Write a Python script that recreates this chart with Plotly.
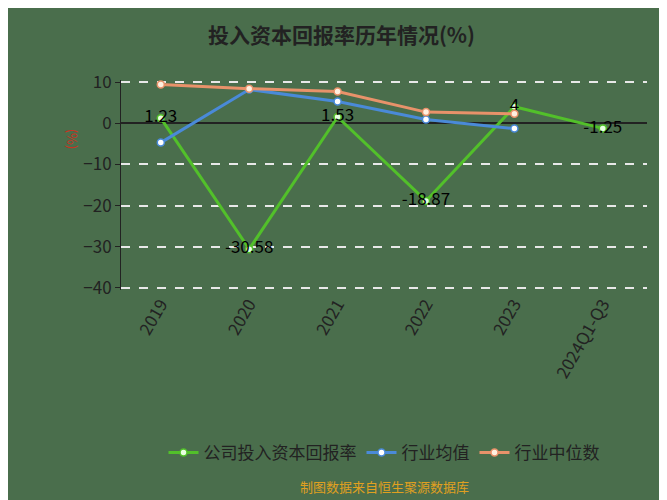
import plotly.graph_objects as go

categories = ["2019", "2020", "2021", "2022", "2023", "2024Q1-Q3"]
company = [1.23, -30.58, 1.53, -18.87, 4, -1.25]
company_labels = ["1.23", "-30.58", "1.53", "-18.87", "4", "-1.25"]
industry_avg = [-4.7, 8.2, 5.3, 0.9, -1.3, None]
industry_median = [9.4, 8.4, 7.7, 2.7, 2.3, None]

bg = "#4a6e4c"
fig = go.Figure()
fig.add_trace(go.Scatter(x=categories, y=company, name="公司投入资本回报率", mode="lines+markers+text",
    text=company_labels, textposition="middle center", textfont=dict(size=17, color="black"),
    line=dict(color="#52c02a", width=3), marker=dict(size=7, color="#e8ffe0", line=dict(color="#52c02a", width=1.5))))
fig.add_trace(go.Scatter(x=categories, y=industry_avg, name="行业均值", mode="lines+markers",
    line=dict(color="#4a8ad8", width=3), marker=dict(size=7, color="white", line=dict(color="#4a8ad8", width=1.5))))
fig.add_trace(go.Scatter(x=categories, y=industry_median, name="行业中位数", mode="lines+markers",
    line=dict(color="#e8926a", width=3), marker=dict(size=7, color="#fff0e0", line=dict(color="#e8926a", width=1.5))))

fig.update_layout(
    width=667, height=500, paper_bgcolor=bg, plot_bgcolor=bg,
    margin=dict(l=113, r=28, t=72, b=218),
    font=dict(family="Noto Sans CJK SC", color="#222"),
    title=dict(text="<b>投入资本回报率历年情况(%)</b>", x=0.5, xanchor="center", y=0.96, font=dict(size=21, color="#222")),
    showlegend=True,
    legend=dict(orientation="h", x=0.5, xanchor="center", y=-0.776, yanchor="middle", font=dict(size=17, color="#222")),
    xaxis=dict(showgrid=False, tickangle=-60, tickfont=dict(size=17, color="#222"), showline=False, ticks="",
               range=[-0.45, 5.5]),
    yaxis=dict(range=[-40.5, 10.5], tickvals=[10, 0, -10, -20, -30, -40], showgrid=True, griddash="dash",
               gridcolor="#e8e8e8", gridwidth=1.5,
               zeroline=True, zerolinecolor="#222", zerolinewidth=1.5, showline=True, linecolor="#222",
               ticks="outside", ticklen=5, tickcolor="#222", tickfont=dict(size=17, color="#222")),
    annotations=[
        dict(text="(%)", x=-0.115, y=0.78, xref="paper", yref="paper", textangle=90, showarrow=False,
             font=dict(size=13, color="#d03020")),
        dict(text="制图数据来自恒生聚源数据库", x=0.5, y=-0.99, xref="paper", yref="paper", showarrow=False,
             font=dict(size=13, color="#e0a020")),
    ],
)
fig.write_html("out.html")
